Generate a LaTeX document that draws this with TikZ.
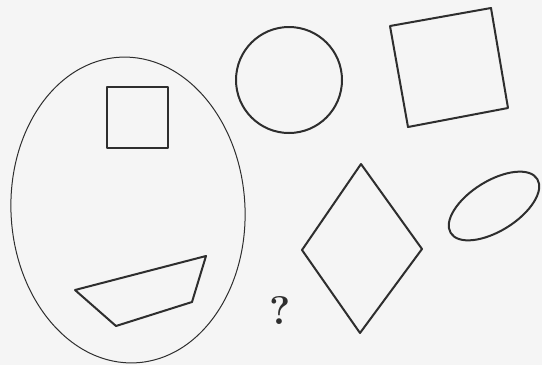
\documentclass[tikz,border=0pt]{standalone}
\usepackage{tikz}
\usetikzlibrary{shapes.geometric}
\definecolor{ink}{HTML}{2E2E2E}
\tikzset{
  fig/.style={draw=ink, line width=2pt, line join=round},
  outer/.style={draw=ink, line width=1pt},
  qmark/.style={font=\fontsize{40}{40}\selectfont\bfseries, text=ink, inner sep=0pt}
}

\begin{document}
\begin{tikzpicture}[x=1pt, y=-1pt]
\fill[black!4] (0,0) rectangle (542,365);
\useasboundingbox (0,0) rectangle (542,365);

% group in the big oval
\draw[outer, rotate around={3:(128,210)}] (128,210) ellipse [x radius=117, y radius=153];
\draw[fig] (107,87) rectangle (168,148);
\draw[fig] (75,290) -- (206,256) -- (192,302) -- (116,326) -- cycle;

% loose shapes
\draw[fig] (289,80) circle [radius=53];
\draw[fig] (390,26) -- (491,8) -- (508,108) -- (408,127) -- cycle;
\draw[fig] (361,164) -- (422,249) -- (360,333) -- (302,250) -- cycle;
\draw[fig, rotate around={32:(494,206)}] (494,206) ellipse [x radius=51, y radius=25];

\node[qmark] (ask) at (280,310) {?};
\end{tikzpicture}
\end{document}
